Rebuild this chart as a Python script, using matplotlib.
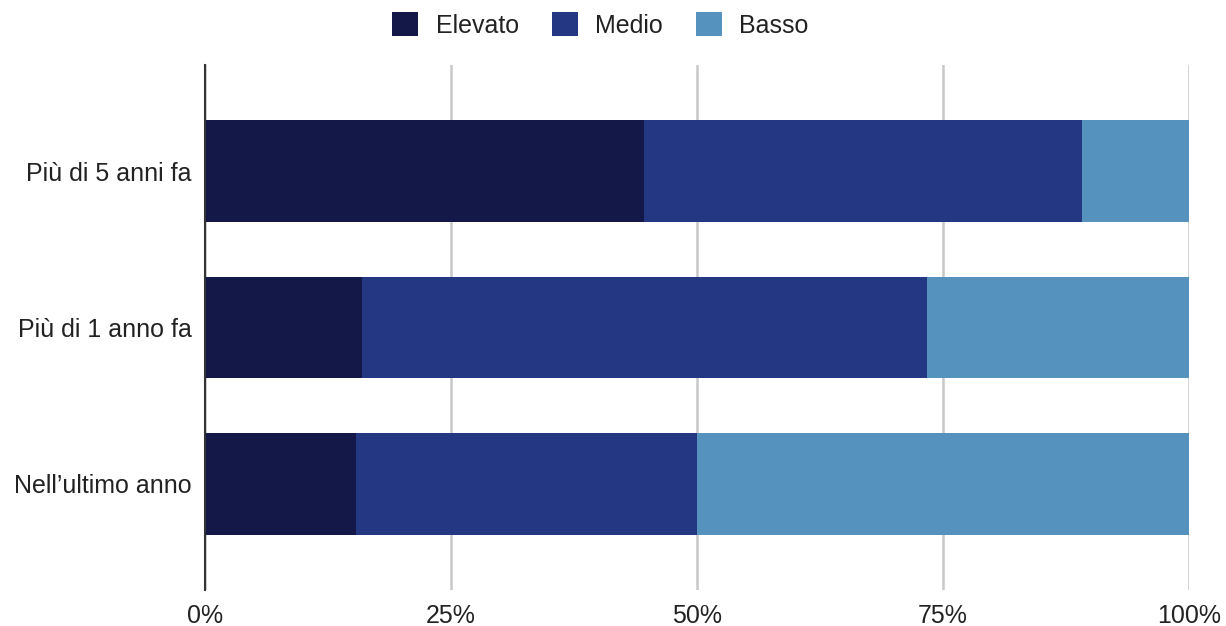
import matplotlib.pyplot as plt
import numpy as np
from matplotlib.patches import Patch
from matplotlib.ticker import FuncFormatter

plt.rcParams["font.family"] = ["Liberation Sans", "DejaVu Sans"]

categories = ["Più di 5 anni fa", "Più di 1 anno fa", "Nell’ultimo anno"]
series_names = ["Elevato", "Medio", "Basso"]
elevato = [44.6, 16.0, 15.3]
medio = [44.5, 57.4, 34.7]
basso = [10.9, 26.6, 50.0]
colors = ["#131849", "#233783", "#5593be"]

fig = plt.figure(figsize=(12.26, 6.26), dpi=100)
ax = fig.add_axes([205 / 1226, 36 / 626, 984 / 1226, 525 / 626])

y = np.arange(len(categories))
left = np.zeros(len(categories))
for vals, col in zip([elevato, medio, basso], colors):
    ax.barh(y, vals, left=left, height=0.65, color=col, zorder=3)
    left += np.array(vals)

ax.set_ylim(2.68, -0.68)
ax.set_xlim(0, 100)
ax.set_yticks(y)
ax.set_yticklabels(categories, fontsize=18, color="#222222")
ax.set_xticks([0, 25, 50, 75, 100])
ax.xaxis.set_major_formatter(FuncFormatter(lambda v, p: f"{v:.0f}%"))
ax.tick_params(axis="x", labelsize=18, colors="#222222", length=0, pad=10)
ax.tick_params(axis="y", length=0, pad=9.5)
ax.grid(axis="x", color="#c8c8c8", linewidth=1.8, zorder=0)
for s in ["top", "right", "bottom"]:
    ax.spines[s].set_visible(False)
ax.spines["left"].set_color("#333333")
ax.spines["left"].set_linewidth(1.5)
ax.spines["left"].set_zorder(4)

handles = [Patch(facecolor=c, edgecolor="none") for c in colors]
fig.legend(handles, series_names, loc="upper center", bbox_to_anchor=(0.4898, 1.016),
           ncol=3, frameon=False, fontsize=18, handlelength=1.05, handleheight=1.05,
           columnspacing=1.3, handletextpad=0.7, labelcolor="#222222")

fig.savefig("out.png", dpi=100)
